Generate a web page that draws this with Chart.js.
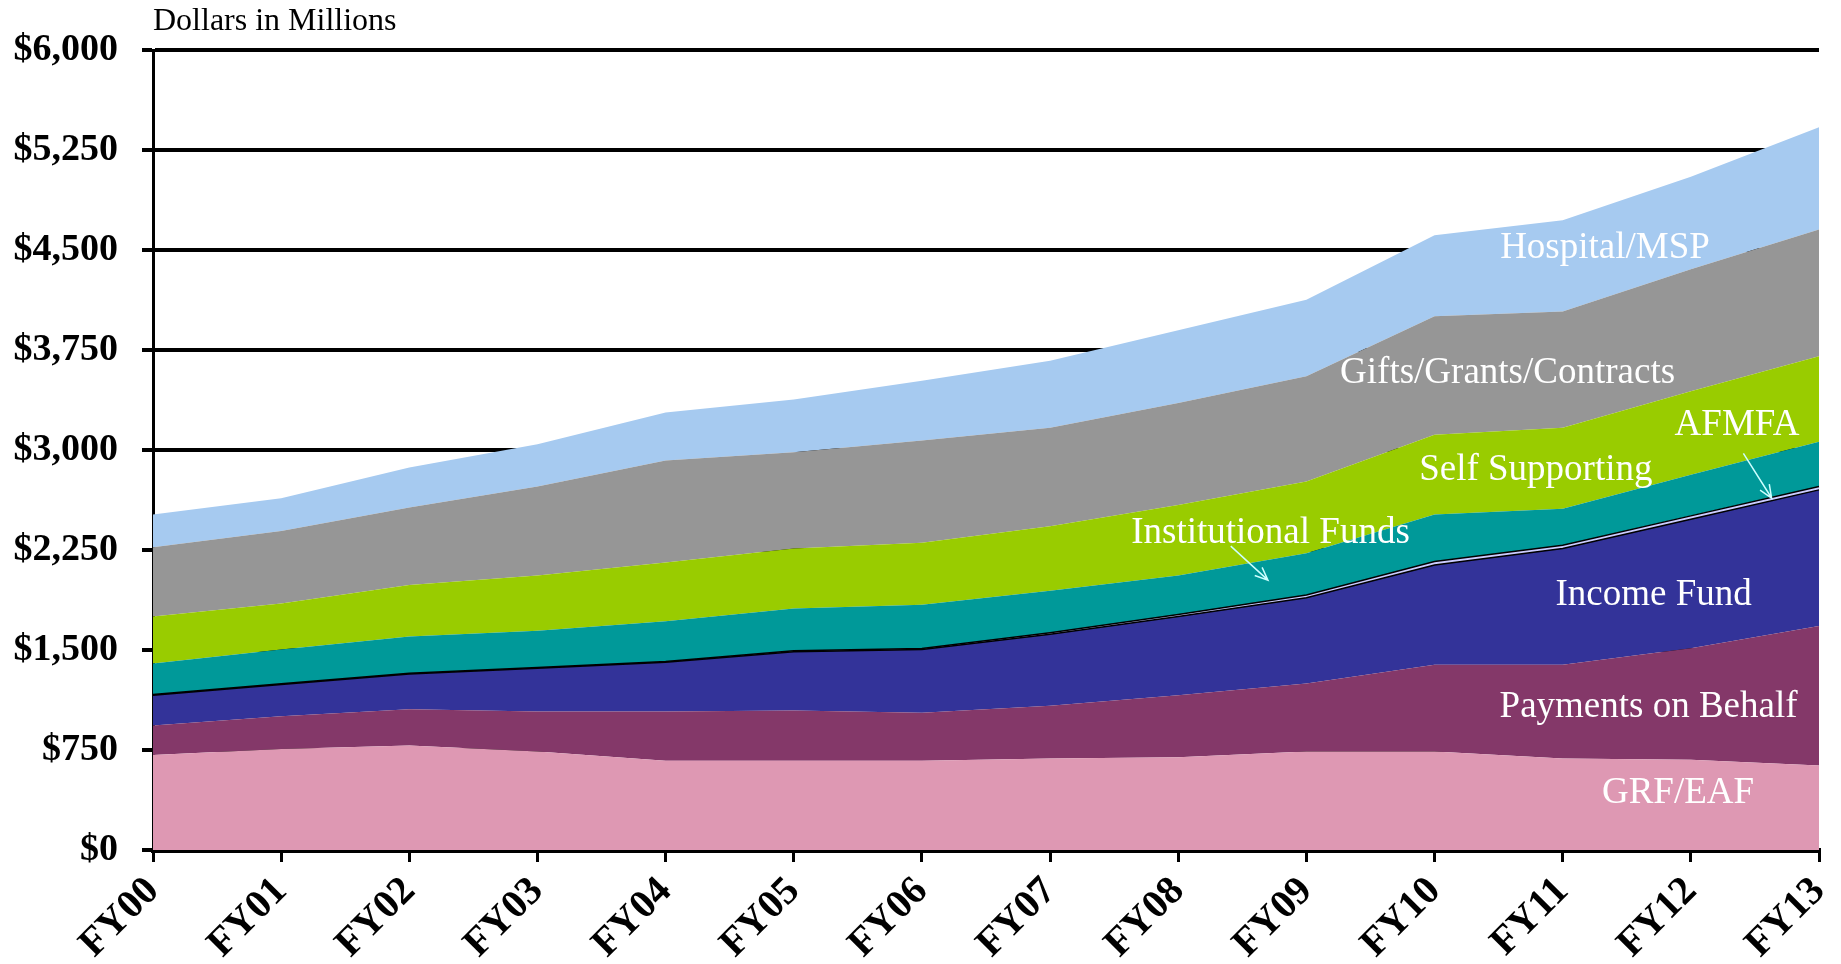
<!DOCTYPE html>
<html>
<head>
<meta charset="utf-8">
<script src="https://cdn.jsdelivr.net/npm/chart.js@4"></script>
<style>
  html, body { margin: 0; padding: 0; background: #fff; }
  #wrap { width: 1841px; height: 964px; position: relative; }
</style>
</head>
<body>
<div id="wrap"><canvas id="fundsChart" width="1841" height="964"></canvas></div>
<script>
// fiscal years
const years = ["FY00", "FY01", "FY02", "FY03", "FY04", "FY05", "FY06",
  "FY07", "FY08", "FY09", "FY10", "FY11", "FY12", "FY13"];

// each source, $ millions (stacked bottom to top)
const grfEaf      = [713, 757, 783, 739, 669, 669, 669, 686, 695, 739, 739, 686, 677, 633];
const payBehalf   = [220, 246, 273, 299, 369, 378, 360, 396, 466, 510, 651, 704, 836, 1047];
const incomeFund  = [228, 238, 264, 326, 370, 440, 475, 537, 590, 643, 748, 871, 968, 1021];
const instFunds   = [5, 5, 5, 5, 5, 8, 8, 10, 15, 20, 25, 25, 25, 25];
const afmfa       = [233, 258, 276, 276, 303, 317, 327, 315, 293, 314, 353, 274, 309, 336];
const selfSupport = [352, 344, 387, 414, 440, 449, 466, 484, 528, 537, 599, 607, 625, 642];
const giftsGrants = [519, 545, 581, 668, 765, 722, 766, 739, 765, 791, 888, 871, 915, 950];
const hospitalMsp = [246, 246, 299, 317, 361, 395, 448, 502, 546, 572, 607, 686, 695, 766];

const yTicks = [0, 750, 1500, 2250, 3000, 3750, 4500, 5250, 6000];

const serif = "'Liberation Serif', 'Times New Roman', serif";

// text written on the areas: [text, year index, value]
const areaLabels = [
  ["Hospital/MSP", 11.33, 4513],
  ["Gifts/Grants/Contracts", 10.57, 3572],
  ["AFMFA", 12.36, 3185],
  ["Self Supporting", 10.79, 2851],
  ["Institutional Funds", 8.72, 2375],
  ["Income Fund", 11.71, 1909],
  ["Payments on Behalf", 11.67, 1073],
  ["GRF/EAF", 11.9, 422]
];
// arrows: [fromIdx, fromVal, toIdx, toVal]
const arrows = [
  [8.41, 2279, 8.70, 2024],
  [12.41, 2974, 12.63, 2640]
];

const labelPlugin = {
  id: "areaLabels",
  afterDatasetsDraw(chart) {
    const { ctx, scales: { x, y } } = chart;
    ctx.save();
    ctx.fillStyle = "#ffffff";
    ctx.font = "37px " + serif;
    ctx.textAlign = "center";
    ctx.textBaseline = "middle";
    areaLabels.forEach(([t, i, v]) => {
      ctx.fillText(t, x.getPixelForValue(i), y.getPixelForValue(v));
    });
    ctx.strokeStyle = "#ccffff";
    ctx.lineWidth = 1.5;
    arrows.forEach(([i0, v0, i1, v1]) => {
      const x0 = x.getPixelForValue(i0), y0 = y.getPixelForValue(v0);
      const x1 = x.getPixelForValue(i1), y1 = y.getPixelForValue(v1);
      const a = Math.atan2(y1 - y0, x1 - x0);
      ctx.beginPath();
      ctx.moveTo(x0, y0);
      ctx.lineTo(x1, y1);
      ctx.moveTo(x1 - 14 * Math.cos(a - 0.4), y1 - 14 * Math.sin(a - 0.4));
      ctx.lineTo(x1, y1);
      ctx.lineTo(x1 - 14 * Math.cos(a + 0.4), y1 - 14 * Math.sin(a + 0.4));
      ctx.stroke();
    });
    // "Dollars in Millions" above the axis
    ctx.fillStyle = "#000";
    ctx.font = "32px " + serif;
    ctx.textAlign = "left";
    ctx.textBaseline = "alphabetic";
    ctx.fillText("Dollars in Millions", chart.chartArea.left, 30);
    ctx.restore();
  }
};

function area(label, data, color, fill, border) {
  return {
    label: label,
    data: data,
    backgroundColor: color,
    borderColor: border ? "#000" : color,
    borderWidth: border ? 1.5 : 0,
    fill: fill,
    pointRadius: 0,
    tension: 0
  };
}

new Chart(document.getElementById("fundsChart").getContext("2d"), {
  type: "line",
  data: {
    labels: years,
    datasets: [
      area("GRF/EAF", grfEaf, "#de98b3", "origin"),
      area("Payments on Behalf", payBehalf, "#843869", "-1"),
      area("Income Fund", incomeFund, "#333399", "-1", true),
      area("Institutional Funds", instFunds, "#ccccff", "-1", true),
      area("AFMFA", afmfa, "#009999", "-1"),
      area("Self Supporting", selfSupport, "#99cc00", "-1"),
      area("Gifts/Grants/Contracts", giftsGrants, "#969696", "-1"),
      area("Hospital/MSP", hospitalMsp, "#a6caf0", "-1")
    ]
  },
  options: {
    responsive: false,
    animation: false,
    layout: { padding: { top: 50, right: 22, left: 0, bottom: 0 } },
    plugins: {
      legend: { display: false },
      tooltip: { enabled: false },
      title: { display: false }
    },
    scales: {
      x: {
        offset: false,
        border: { display: true, color: "#000", width: 5 },
        grid: { drawOnChartArea: false, drawTicks: true, tickLength: 12, color: "#000", lineWidth: 3 },
        ticks: {
          autoSkip: false,
          maxRotation: 45,
          minRotation: 45,
          padding: 6,
          color: "#000",
          font: { family: serif, size: 40, weight: "bold" }
        },
        afterFit: s => { s.height = 114; s.paddingLeft = 0; s.paddingRight = 0; }
      },
      y: {
        stacked: true,
        min: 0,
        max: 6000,
        afterBuildTicks: s => { s.ticks = yTicks.map(v => ({ value: v })); },
        border: { display: true, color: "#000", width: 3 },
        grid: { color: "#000", lineWidth: 4, tickLength: 11 },
        ticks: {
          padding: 24,
          color: "#000",
          font: { family: serif, size: 38, weight: "bold" },
          callback: v => "$" + v.toLocaleString("en-US")
        },
        afterFit: s => { s.width = 153; }
      }
    }
  },
  plugins: [labelPlugin]
});
</script>
</body>
</html>
